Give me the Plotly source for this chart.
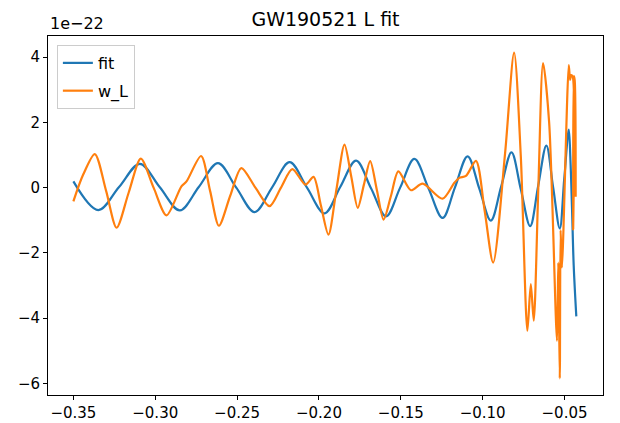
import plotly.graph_objects as go

# ---- data (x in seconds, y in units of 1e-22) ----
fit_x = [-0.3500, -0.3348, -0.3221, -0.3094, -0.2972, -0.2850, -0.2734, -0.2617,
         -0.2505, -0.2393, -0.2286, -0.2179, -0.2073, -0.1966, -0.1870, -0.1773,
         -0.1682, -0.1590, -0.1504, -0.1417, -0.1331, -0.1245, -0.1169, -0.1092,
         -0.1021, -0.0950, -0.0887, -0.0824, -0.0767, -0.0710, -0.0661, -0.0611,
         -0.0570, -0.0529, -0.0502, -0.0474, -0.0464, -0.0454, -0.0444, -0.0428]
fit_y = [0.19, -0.69, 0.02, 0.73, 0.01, -0.70, 0.02, 0.75,
         0.00, -0.75, 0.01, 0.78, 0.00, -0.79, 0.02, 0.83,
         -0.02, -0.88, 0.00, 0.88, -0.02, -0.93, 0.01, 0.96,
         -0.02, -1.01, 0.03, 1.08, -0.05, -1.18, 0.05, 1.29,
         0.02, -1.25, 0.25, 1.78, 0.86, -0.67, -2.38, -3.95]

wl_x = [-0.3500, -0.3440, -0.3369, -0.3300, -0.3236, -0.3162, -0.3088, -0.3010,
        -0.2931, -0.2840, -0.2809, -0.2720, -0.2665, -0.2611, -0.2542, -0.2474,
        -0.2388, -0.2302, -0.2232, -0.2163, -0.2082, -0.2033, -0.1988, -0.1942,
        -0.1893, -0.1844, -0.1803, -0.1763, -0.1725, -0.1687, -0.1646, -0.1605,
        -0.1560, -0.1515, -0.1438, -0.1367, -0.1245, -0.1173, -0.1143, -0.1102,
        -0.1041, -0.0988, -0.0936, -0.0863, -0.0808, -0.0767, -0.0727, -0.0706,
        -0.0688, -0.0660, -0.0631, -0.0594, -0.0546, -0.0538, -0.0529, -0.0524,
        -0.0516, -0.0474, -0.0466, -0.0460, -0.0450, -0.0447, -0.0443, -0.0438,
        -0.0432]
wl_y = [-0.42, 0.40, 1.03, -0.10, -1.23, -0.15, 0.89, 0.00,
        -0.85, 0.04, 0.19, 0.97, -0.10, -1.17, -0.25, 0.60,
        0.00, -0.57, 0.00, 0.57, 0.09, 0.33, -0.55, -1.44,
        -0.05, 1.32, 0.35, -0.62, 0.10, 0.81, -0.08, -0.98,
        -0.25, 0.50, -0.08, 0.12, -0.34, 0.15, 0.30, 0.36,
        0.82, -0.70, -2.30, 1.06, 4.14, 0.96, -4.39, -2.96,
        -4.08, 0.00, 3.82, 2.00, -4.70, -2.30, -5.85, -1.30,
        -2.45, 3.76, 3.30, 3.45, 3.40, -1.28, 3.42, 3.30,
        -0.28]

x_ticks = [-0.35, -0.30, -0.25, -0.20, -0.15, -0.10, -0.05]
y_ticks = [-6, -4, -2, 0, 2, 4]

FONT = "DejaVu Sans"

fig = go.Figure()
fig.add_trace(go.Scatter(x=fit_x, y=fit_y, mode="lines", name="fit",
                         line=dict(color="#1f77b4", width=2.2, shape="spline", smoothing=1.0),
                         legendgroup="a"))
fig.add_trace(go.Scatter(x=wl_x, y=wl_y, mode="lines", name="w_L",
                         line=dict(color="#ff7f0e", width=2.2, shape="spline", smoothing=0.8),
                         legendgroup="b"))

axis_common = dict(showgrid=False, zeroline=False, showline=True, mirror=True,
                   linecolor="black", linewidth=1, ticks="outside", ticklen=4,
                   tickwidth=1, tickcolor="black", automargin=False,
                   tickfont=dict(family=FONT, size=15, color="black"))

fig.update_layout(
    width=620, height=423,
    margin=dict(l=48, r=17, t=36, b=28),
    paper_bgcolor="white", plot_bgcolor="white",
    title=dict(text="GW190521 L fit", x=0.5, xref="paper", xanchor="center",
               y=1 - 19 / 423, yref="container", yanchor="middle",
               font=dict(family=FONT, size=19, color="black")),
    xaxis=dict(range=[-0.3655, -0.0265], tickvals=x_ticks, tickformat=".2f", **axis_common),
    yaxis=dict(range=[-6.36, 4.65], tickvals=y_ticks, tickformat="d", **axis_common),
    legend=dict(x=0.016, y=0.975, xanchor="left", yanchor="top",
                bgcolor="rgba(255,255,255,0.8)", bordercolor="#cccccc", borderwidth=1,
                font=dict(family=FONT, size=16, color="black"),
                traceorder="grouped", tracegroupgap=4, itemwidth=30),
    showlegend=True,
    annotations=[dict(text="1e\u221222", x=0, y=1, xref="paper", yref="paper",
                      xanchor="left", yanchor="bottom", yshift=1, showarrow=False,
                      font=dict(family=FONT, size=16, color="black"))],
)

fig.write_html("out.html")
